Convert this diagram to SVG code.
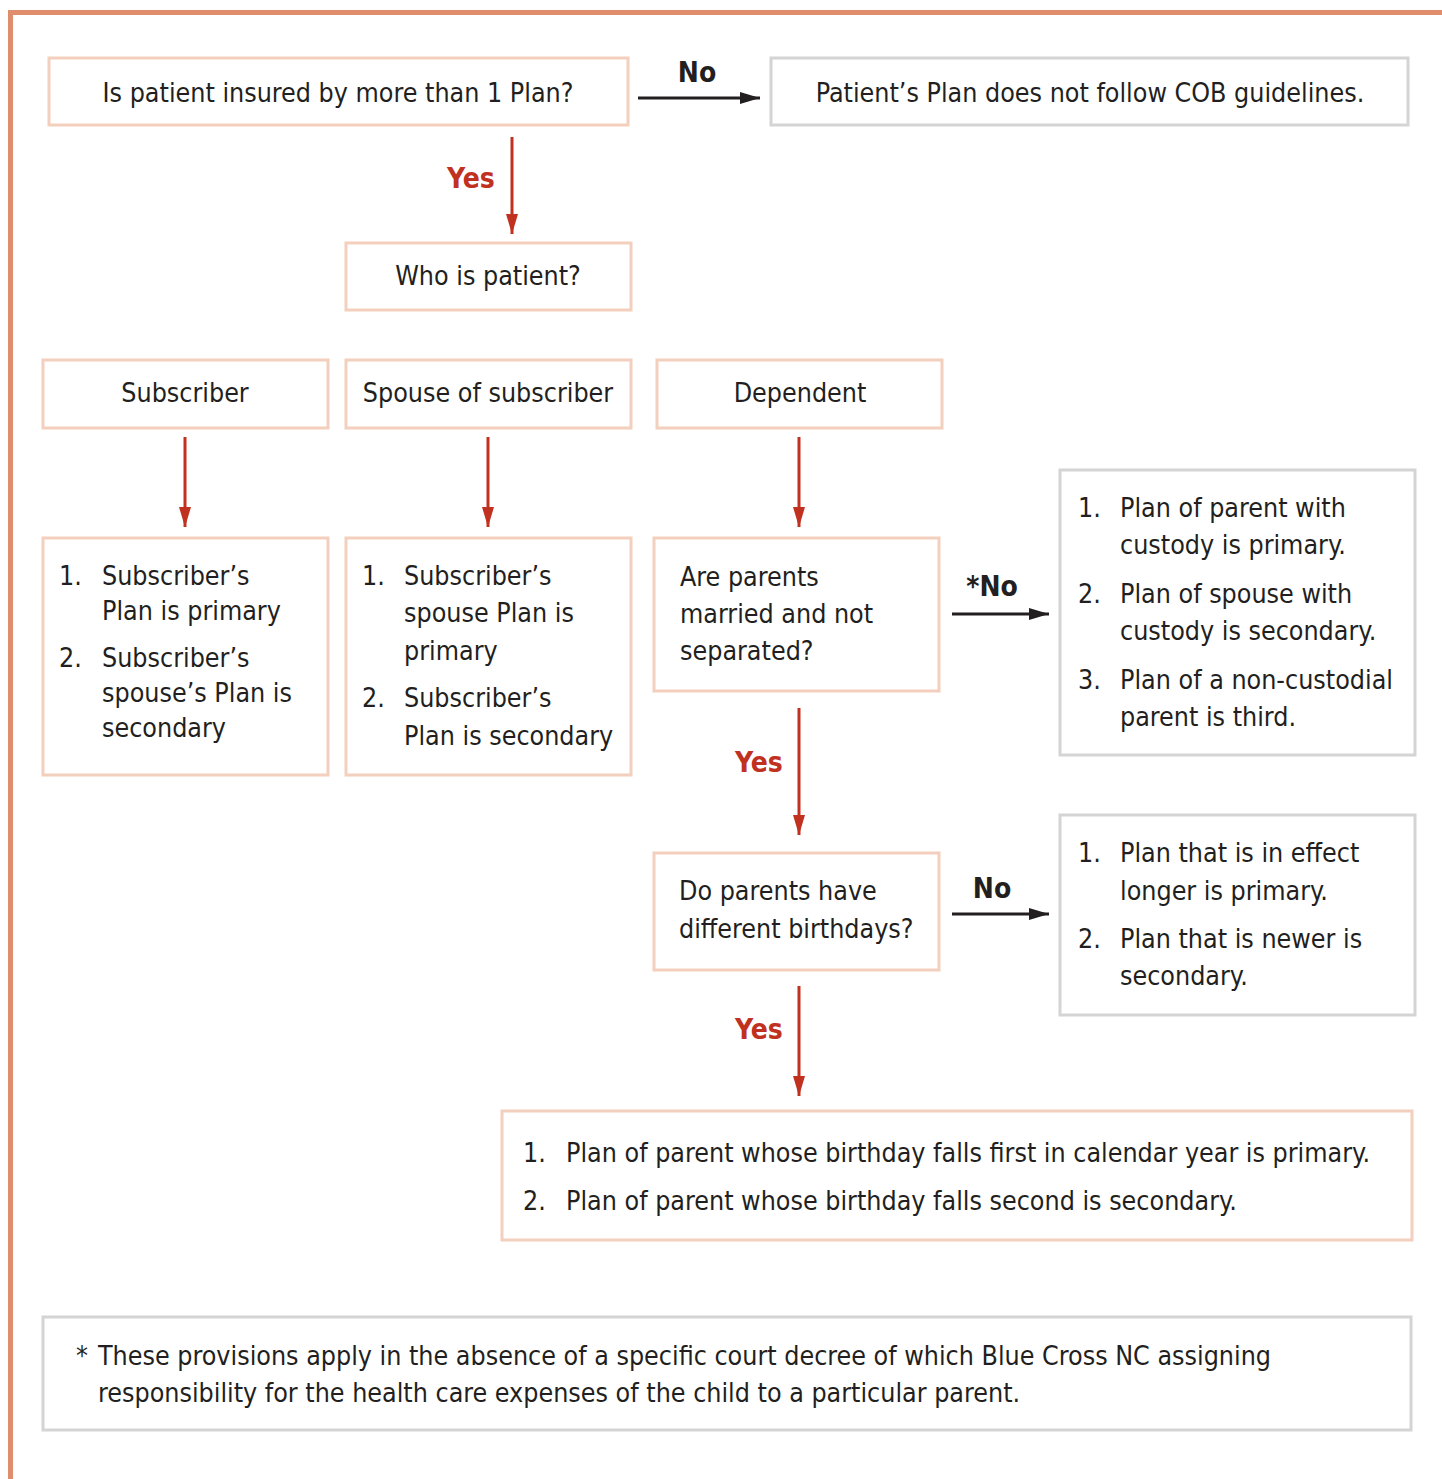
<svg xmlns="http://www.w3.org/2000/svg" width="1442" height="1479" viewBox="0 0 1442 1479">
<style>
text{font-family:"Liberation Sans Narrow","DejaVu Sans Condensed","Liberation Sans",sans-serif;font-size:26.6px;fill:#231f20;}
.c{text-anchor:middle;}
.b{font-weight:bold;font-size:28px;}
.r{fill:#c1311f;}
.pk{fill:#fff;stroke:#f3cfbd;stroke-width:3;}
.gy{fill:#fff;stroke:#d4d4d4;stroke-width:3;}
.ab{stroke:#231f20;stroke-width:3;fill:none;}
.ar{stroke:#c1311f;stroke-width:3;fill:none;}
</style>
<defs>
<marker id="hb" viewBox="0 0 20 12" refX="20" refY="6" markerWidth="20" markerHeight="12" markerUnits="userSpaceOnUse" orient="auto"><path d="M0,0 L20,6 L0,12 Z" fill="#231f20"/></marker>
<marker id="hr" viewBox="0 0 20 12" refX="20" refY="6" markerWidth="20" markerHeight="12" markerUnits="userSpaceOnUse" orient="auto"><path d="M0,0 L20,6 L0,12 Z" fill="#c1311f"/></marker>
</defs>
<rect width="1442" height="1479" fill="#fff"/>
<path d="M10.5,1479 V12.5 H1442" stroke="#e08d6d" stroke-width="5" fill="none"/>

<g id="connectors">
<line class="ab" x1="638" y1="98" x2="760" y2="98" marker-end="url(#hb)"/>
<text class="c b" x="697" y="82">No</text>
<line class="ar" x1="512" y1="137" x2="512" y2="234" marker-end="url(#hr)"/>
<text class="c b r" x="471" y="188">Yes</text>
<line class="ar" x1="185" y1="437" x2="185" y2="527" marker-end="url(#hr)"/>
<line class="ar" x1="488" y1="437" x2="488" y2="527" marker-end="url(#hr)"/>
<line class="ar" x1="799" y1="437" x2="799" y2="527" marker-end="url(#hr)"/>
<line class="ab" x1="952" y1="614" x2="1049" y2="614" marker-end="url(#hb)"/>
<text class="c b" x="992" y="596">*No</text>
<line class="ar" x1="799" y1="708" x2="799" y2="835" marker-end="url(#hr)"/>
<text class="c b r" x="759" y="772">Yes</text>
<line class="ab" x1="952" y1="914" x2="1049" y2="914" marker-end="url(#hb)"/>
<text class="c b" x="992" y="898">No</text>
<line class="ar" x1="799" y1="986" x2="799" y2="1096" marker-end="url(#hr)"/>
<text class="c b r" x="759" y="1039">Yes</text>
</g>

<g id="q1"><rect class="pk" x="49" y="58" width="579" height="67"/><text class="c" x="338" y="102">Is patient insured by more than 1 Plan?</text></g>
<g id="nocob"><rect class="gy" x="771" y="58" width="637" height="67"/><text class="c" x="1090" y="102">Patient’s Plan does not follow COB guidelines.</text></g>
<g id="who"><rect class="pk" x="346" y="243" width="285" height="67"/><text class="c" x="488" y="285">Who is patient?</text></g>
<g id="subscriber"><rect class="pk" x="43" y="360" width="285" height="68"/><text class="c" x="185" y="402">Subscriber</text></g>
<g id="spouse"><rect class="pk" x="346" y="360" width="285" height="68"/><text class="c" x="488" y="402">Spouse of subscriber</text></g>
<g id="dependent"><rect class="pk" x="657" y="360" width="285" height="68"/><text class="c" x="800" y="402">Dependent</text></g>

<g id="sub-rules"><rect class="pk" x="43" y="538" width="285" height="237"/>
<text x="59" y="585">1.</text><text x="102" y="585">Subscriber’s</text><text x="102" y="620">Plan is primary</text>
<text x="59" y="667">2.</text><text x="102" y="667">Subscriber’s</text><text x="102" y="702">spouse’s Plan is</text><text x="102" y="737">secondary</text></g>

<g id="spouse-rules"><rect class="pk" x="346" y="538" width="285" height="237"/>
<text x="362" y="585">1.</text><text x="404" y="585">Subscriber’s</text><text x="404" y="622">spouse Plan is</text><text x="404" y="660">primary</text>
<text x="362" y="707">2.</text><text x="404" y="707">Subscriber’s</text><text x="404" y="745">Plan is secondary</text></g>

<g id="married"><rect class="pk" x="654" y="538" width="285" height="153"/>
<text x="680" y="586">Are parents</text><text x="680" y="623">married and not</text><text x="680" y="660">separated?</text></g>

<g id="custody"><rect class="gy" x="1060" y="470" width="355" height="285"/>
<text x="1078" y="517">1.</text><text x="1120" y="517">Plan of parent with</text><text x="1120" y="554">custody is primary.</text>
<text x="1078" y="603">2.</text><text x="1120" y="603">Plan of spouse with</text><text x="1120" y="640">custody is secondary.</text>
<text x="1078" y="689">3.</text><text x="1120" y="689">Plan of a non-custodial</text><text x="1120" y="726">parent is third.</text></g>

<g id="birthdays"><rect class="pk" x="654" y="853" width="285" height="117"/>
<text x="679" y="900">Do parents have</text><text x="679" y="938">different birthdays?</text></g>

<g id="effect"><rect class="gy" x="1060" y="815" width="355" height="200"/>
<text x="1078" y="862">1.</text><text x="1120" y="862">Plan that is in effect</text><text x="1120" y="900">longer is primary.</text>
<text x="1078" y="948">2.</text><text x="1120" y="948">Plan that is newer is</text><text x="1120" y="985">secondary.</text></g>

<g id="birthday-rule"><rect class="pk" x="502" y="1111" width="910" height="129"/>
<text x="523" y="1162">1.</text><text x="566" y="1162">Plan of parent whose birthday falls first in calendar year is primary.</text>
<text x="523" y="1210">2.</text><text x="566" y="1210">Plan of parent whose birthday falls second is secondary.</text></g>

<g id="footnote"><rect class="gy" x="43" y="1317" width="1368" height="113"/>
<text x="76" y="1365">*</text><text x="98" y="1365">These provisions apply in the absence of a specific court decree of which Blue Cross NC assigning</text>
<text x="98" y="1402">responsibility for the health care expenses of the child to a particular parent.</text></g>
</svg>
